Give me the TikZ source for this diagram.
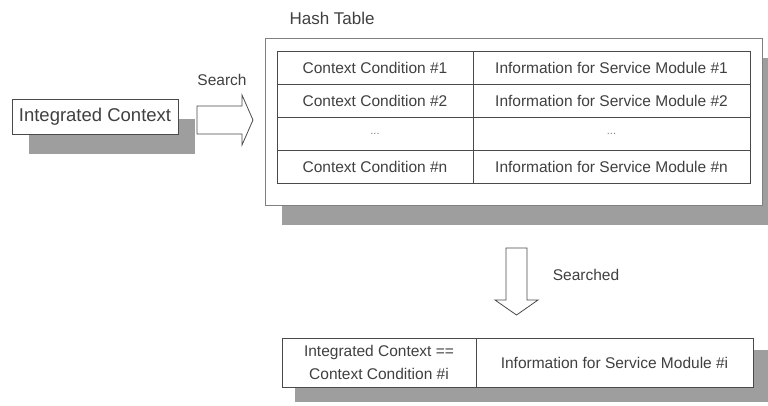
\documentclass[tikz,border=0pt]{standalone}
\usepackage{fontspec}
\setmainfont{Liberation Sans}
\usetikzlibrary{shadows}
\definecolor{inkgray}{HTML}{404040}
\definecolor{linegray}{HTML}{4A4A4A}
\definecolor{shadegray}{HTML}{9E9E9E}
\tikzset{
  every node/.style={text=inkgray},
  plainbox/.style={draw=linegray, line width=0.8pt, fill=white, inner sep=0pt},
  cell/.style={draw=linegray, line width=0.8pt, inner sep=0pt, font=\fontsize{15.5}{18}\selectfont},
  dots/.style={text=gray, font=\fontsize{11}{12}\selectfont},
  lbl/.style={font=\fontsize{15.5}{18}\selectfont},
  blockarrow/.style={draw=linegray, line width=0.8pt, fill=white, line join=miter}
}
\begin{document}
\begin{tikzpicture}[x=1pt,y=-1pt]
\path[use as bounding box, fill=white] (0,0) rectangle (768,405);

% source box with its shadow
\node[plainbox, drop shadow={shadow xshift=17pt, shadow yshift=-20pt, fill=shadegray, opacity=1},
  minimum width=166pt, minimum height=35pt, font=\fontsize{18.5}{20}\selectfont]
  (ic) at (95,116.5) {Integrated Context};

% search arrow (hollow block arrow) and its label
\coordinate (searchtail) at (197,119.5);
\draw[blockarrow] (searchtail) ++(0,-13.5) -- ++(45,0) -- ++(0,-11) -- ++(11,25)
  -- ++(-11,25) -- ++(0,-11) -- ++(-45,0) -- cycle;
\node[lbl] (searchlbl) at (222,80) {Search};

% hash table frame
\node[lbl, anchor=west, font=\fontsize{17}{20}\selectfont] (htlbl) at (286,18) {Hash Table};
\node[draw=gray, line width=0.8pt, fill=white, inner sep=0pt,
  drop shadow={shadow xshift=17pt, shadow yshift=-20pt, fill=shadegray, opacity=1},
  minimum width=497pt, minimum height=167pt] (ht) at (513.5,121.5) {};

% table rows
\node[cell, minimum width=196pt, minimum height=33pt] (c11) at (375,67.5) {Context Condition \#1};
\node[cell, minimum width=277pt, minimum height=33pt] (c12) at (611.5,67.5) {Information for Service Module \#1};
\node[cell, minimum width=196pt, minimum height=33pt] (c21) at (375,100.5) {Context Condition \#2};
\node[cell, minimum width=277pt, minimum height=33pt] (c22) at (611.5,100.5) {Information for Service Module \#2};
\node[cell, minimum width=196pt, minimum height=33pt] (c31) at (375,133.5) {};
\node[cell, minimum width=277pt, minimum height=33pt] (c32) at (611.5,133.5) {};
\node[dots] (d31) at (c31) {...};
\node[dots] (d32) at (c32) {...};
\node[cell, minimum width=196pt, minimum height=33pt] (c41) at (375,166.5) {Context Condition \#n};
\node[cell, minimum width=277pt, minimum height=33pt] (c42) at (611.5,166.5) {Information for Service Module \#n};

% searched arrow (hollow block arrow, pointing down) and its label
\coordinate (foundtail) at (516.5,248);
\draw[blockarrow] (foundtail) ++(-10.5,0) -- ++(0,52) -- ++(-11,0) -- ++(21.5,15)
  -- ++(21.5,-15) -- ++(-11,0) -- ++(0,-52) -- cycle;
\node[lbl] (foundlbl) at (586,275) {Searched};

% result row with its shadow
\path[fill=shadegray] (295,350) rectangle (768,402);
\node[cell, fill=white, minimum width=194pt, minimum height=49pt, align=center,
  font=\fontsize{15.5}{23}\selectfont] (r1) at (379,362.5)
  {Integrated Context ==\\Context Condition \#i};
\node[cell, fill=white, minimum width=277pt, minimum height=49pt] (r2) at (614.5,362.5)
  {Information for Service Module \#i};
\end{tikzpicture}
\end{document}
